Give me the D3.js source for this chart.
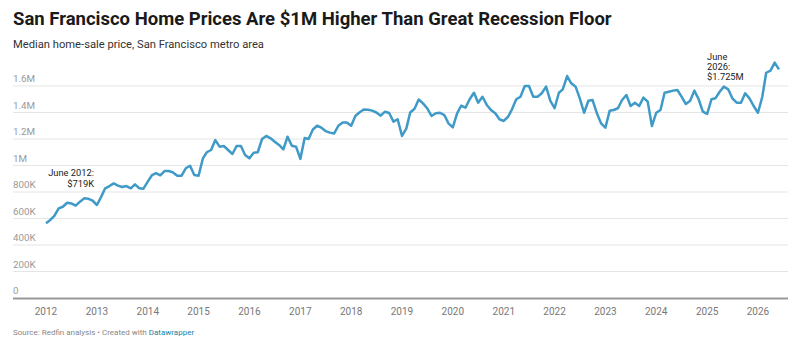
<!DOCTYPE html>
<html>
<head>
<meta charset="utf-8">
<script src="https://cdn.jsdelivr.net/npm/d3@7"></script>
<style>
  body { margin: 0; background: #fff; font-family: Roboto, "Noto Sans", sans-serif; }
  svg { display: block; }
</style>
</head>
<body>
<svg id="svg" width="800" height="355"></svg>
<script>
// monthly median sale price (thousands of $), starting January 2012
const firstMonth = new Date(2012, 0, 1);
const price2012 = [564, 589, 619, 677, 689, 719, 714, 697, 727, 752, 749, 734];
const price2013 = [702, 765, 828, 845, 865, 848, 838, 845, 828, 858, 828, 825];
const price2014 = [878, 928, 943, 926, 958, 958, 948, 923, 923, 979, 998, 928];
const price2015 = [923, 1054, 1100, 1117, 1192, 1142, 1147, 1117, 1087, 1147, 1147, 1079];
const price2016 = [1054, 1097, 1100, 1200, 1223, 1205, 1180, 1155, 1122, 1217, 1149, 1142];
const price2017 = [1050, 1208, 1200, 1272, 1300, 1285, 1260, 1248, 1242, 1300, 1325, 1325];
const price2018 = [1300, 1376, 1400, 1422, 1420, 1414, 1400, 1376, 1406, 1396, 1331, 1349];
const price2019 = [1223, 1278, 1400, 1428, 1498, 1469, 1432, 1374, 1394, 1398, 1381, 1318];
const price2020 = [1288, 1394, 1451, 1436, 1500, 1549, 1474, 1519, 1457, 1419, 1394, 1349];
const price2021 = [1336, 1368, 1424, 1500, 1519, 1600, 1600, 1519, 1519, 1545, 1595, 1490];
const price2022 = [1432, 1549, 1575, 1675, 1620, 1595, 1507, 1398, 1489, 1494, 1394, 1318];
const price2023 = [1285, 1414, 1419, 1432, 1494, 1532, 1449, 1474, 1449, 1512, 1482, 1298];
const price2024 = [1398, 1419, 1549, 1557, 1565, 1570, 1520, 1464, 1489, 1565, 1500, 1406];
const price2025 = [1389, 1500, 1507, 1557, 1595, 1575, 1507, 1474, 1474, 1545, 1507, 1449];
const price2026 = [1398, 1519, 1700, 1716, 1776, 1725];

const yTicks = [0, 200, 400, 600, 800, 1000, 1200, 1400, 1600];
const yTickLabels = ['0', '200K', '400K', '600K', '800K', '1M', '1.2M', '1.4M', '1.6M'];
const yearTicks = [2012, 2013, 2014, 2015, 2016, 2017, 2018, 2019, 2020, 2021, 2022, 2023, 2024, 2025, 2026];

const startNote = ['June 2012:', '$719K'];
const endNote = ['June', '2026:', '$1.725M'];

const prices = [].concat(price2012, price2013, price2014, price2015, price2016, price2017,
    price2018, price2019, price2020, price2021, price2022, price2023, price2024, price2025, price2026);
const series = prices.map((v, i) => ({ date: d3.timeMonth.offset(firstMonth, i), value: v }));

const svg = d3.select('#svg');
const left = 13, right = 788;

const x = d3.scaleTime()
    .domain([series[0].date, series[series.length - 1].date])
    .range([46, 779]);
const y = d3.scaleLinear()
    .domain([0, 1600])
    .range([298, 86]);

// title block
svg.append('text')
    .attr('x', left).attr('y', 25)
    .style('font-size', '18.5px').style('font-weight', 700).style('fill', '#1a1a1a')
    .text('San Francisco Home Prices Are $1M Higher Than Great Recession Floor');
svg.append('text')
    .attr('x', left).attr('y', 48)
    .style('font-size', '11.2px').style('fill', '#333')
    .text('Median home-sale price, San Francisco metro area');

// gridlines + y labels
const grid = svg.append('g');
grid.selectAll('line')
    .data(yTicks.filter(d => d > 0))
    .enter().append('line')
    .attr('x1', left).attr('x2', right)
    .attr('y1', d => y(d)).attr('y2', d => y(d))
    .style('stroke', '#e5e5e5').style('stroke-width', 1);
grid.selectAll('text')
    .data(yTicks)
    .enter().append('text')
    .attr('x', left).attr('y', d => y(d) - 4)
    .style('font-size', '9.8px').style('fill', '#999')
    .text((d, i) => yTickLabels[i]);

// x axis
svg.append('line')
    .attr('x1', left).attr('x2', right)
    .attr('y1', y(0) + 0.5).attr('y2', y(0) + 0.5)
    .style('stroke', '#999').style('stroke-width', 2);
svg.append('g').selectAll('text')
    .data(yearTicks)
    .enter().append('text')
    .attr('x', d => x(new Date(d, 0, 1)))
    .attr('y', 315)
    .attr('text-anchor', 'middle')
    .style('font-size', '10px').style('fill', '#777')
    .text(d => d);

// the line
const line = d3.line()
    .x(d => x(d.date))
    .y(d => y(d.value));
svg.append('path')
    .datum(series)
    .attr('d', line)
    .style('fill', 'none')
    .style('stroke', '#3f9ac7')
    .style('stroke-width', 2.5)
    .style('stroke-linejoin', 'round');

// annotations
const n1 = svg.append('text')
    .attr('text-anchor', 'end')
    .style('font-size', '9.3px').style('fill', '#222');
startNote.forEach((t, i) => {
    n1.append('tspan').attr('x', 94).attr('y', 176 + i * 11).text(t);
});
const n2 = svg.append('text')
    .style('font-size', '9.3px').style('fill', '#222');
endNote.forEach((t, i) => {
    n2.append('tspan').attr('x', 707).attr('y', 60 + i * 10).text(t);
});

// footer
const foot = svg.append('text')
    .attr('x', left).attr('y', 335)
    .style('font-size', '8px').style('fill', '#888');
foot.append('tspan').text('Source: Redfin analysis \u2022 Created with ');
foot.append('tspan').style('fill', '#1d81a2').text('Datawrapper');
</script>
</body>
</html>
